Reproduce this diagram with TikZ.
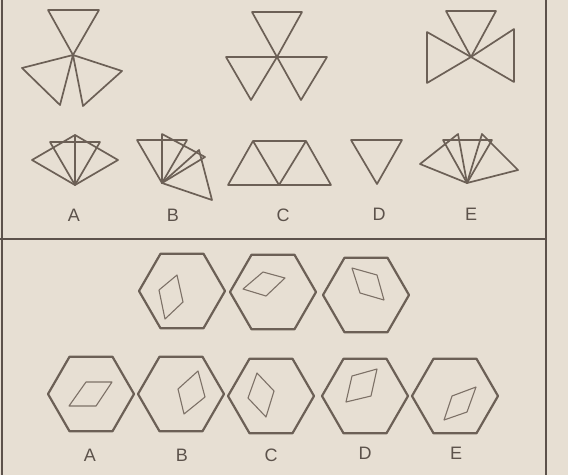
\documentclass[tikz,border=0pt]{standalone}
\usepackage{fontspec}
\setmainfont{Liberation Sans}
\usepackage{xcolor}
\definecolor{PaperBeige}{RGB}{231,223,211}
\definecolor{InkGray}{RGB}{108,96,86}
\definecolor{InkLight}{RGB}{125,113,103}
\definecolor{FrameGray}{RGB}{92,82,75}
\usetikzlibrary{calc}
\tikzset{
  % triangle outlines of the first puzzle
  tri/.style={draw=InkGray, line width=1.7pt, line join=round},
  % hexagon and inner rhombus of the second puzzle
  hexline/.style={draw=InkGray, line width=2.2pt, line join=round},
  rhombline/.style={draw=InkLight, line width=1.1pt, line join=round},
  % frame lines
  frame/.style={draw=FrameGray, line width=1.4pt},
  % option letters
  optlabel/.style={font=\fontsize{18}{18}\selectfont, text=FrameGray, inner sep=0pt},
}

\begin{document}
\begin{tikzpicture}[x=1pt, y=-1pt]

  \fill[PaperBeige] (0,0) rectangle (568,475);
  \useasboundingbox (0,0) rectangle (568,475);

  %% Frame
  \draw[frame] (2,0) -- (2,475);
  \draw[frame] (546,0) -- (546,475);
  \draw[frame] (0,239) -- (546,239);

  %% Puzzle 1: given figures
  \draw[tri] (48,10) -- (99,10) -- (73,55) -- cycle;
  \draw[tri] (73,55) -- (22,68) -- (60,105) -- cycle;
  \draw[tri] (73,55) -- (122,71) -- (83,106) -- cycle;

  \draw[tri] (252,12) -- (302,12) -- (277,57) -- cycle;
  \draw[tri] (226,57) -- (277,57) -- (251,100) -- cycle;
  \draw[tri] (277,57) -- (327,57) -- (301,100) -- cycle;

  \draw[tri] (446,11) -- (496,11) -- (471,57) -- cycle;
  \draw[tri] (427,32) -- (427,83) -- (471,57) -- cycle;
  \draw[tri] (514,29) -- (514,82) -- (471,57) -- cycle;

  %% Puzzle 1: options
  % A
  \draw[tri] (75,185) -- (50,142) -- (100,142) -- cycle;
  \draw[tri] (75,185) -- (32,160) -- (75,135) -- cycle;
  \draw[tri] (75,185) -- (75,135) -- (118,160) -- cycle;
  % B
  \draw[tri] (162,183) -- (137,140) -- (187,140) -- cycle;
  \draw[tri] (162,183) -- (162,134) -- (205,157) -- cycle;
  \draw[tri] (162,183) -- (199,150) -- (212,200) -- cycle;
  % C
  \draw[tri] (228,185) -- (253,141) -- (306,141) -- (331,185) -- cycle;
  \draw[tri] (253,141) -- (279,185) -- (306,141);
  % D
  \draw[tri] (351,140) -- (402,140) -- (377,184) -- cycle;
  % E
  \draw[tri] (467,183) -- (443,140) -- (492,140) -- cycle;
  \draw[tri] (467,183) -- (458,134) -- (420,164) -- cycle;
  \draw[tri] (467,183) -- (482,134) -- (518,170) -- cycle;

  \node[optlabel] (labA1) at (74,215) {A};
  \node[optlabel] (labB1) at (173,215) {B};
  \node[optlabel] (labC1) at (283,215) {C};
  \node[optlabel] (labD1) at (379,214) {D};
  \node[optlabel] (labE1) at (471,214) {E};

  %% Puzzle 2: hexagons
  \foreach \cx/\cy in {182/291, 273/292, 366/295,
                       91/394, 181/394, 271/396, 365/396, 455/396}
    \draw[hexline] (\cx,\cy) +(0:43) -- +(60:43) -- +(120:43)
      -- +(180:43) -- +(240:43) -- +(300:43) -- cycle;

  %% Puzzle 2: rhombi
  \draw[rhombline] (159,290) -- (177,275) -- (183,302) -- (165,319) -- cycle;
  \draw[rhombline] (243,289) -- (263,272) -- (285,278) -- (266,296) -- cycle;
  \draw[rhombline] (352,268) -- (377,275) -- (384,300) -- (360,293) -- cycle;

  \draw[rhombline] (86,382) -- (112,382) -- (96,406) -- (69,406) -- cycle;
  \draw[rhombline] (198,371) -- (205,397) -- (184,414) -- (178,389) -- cycle;
  \draw[rhombline] (257,373) -- (274,391) -- (266,417) -- (248,398) -- cycle;
  \draw[rhombline] (352,376) -- (377,369) -- (371,396) -- (346,402) -- cycle;
  \draw[rhombline] (476,387) -- (467,412) -- (444,420) -- (452,396) -- cycle;

  \node[optlabel] (labA2) at (90,455) {A};
  \node[optlabel] (labB2) at (182,455) {B};
  \node[optlabel] (labC2) at (271,455) {C};
  \node[optlabel] (labD2) at (365,453) {D};
  \node[optlabel] (labE2) at (456,453) {E};

\end{tikzpicture}
\end{document}
